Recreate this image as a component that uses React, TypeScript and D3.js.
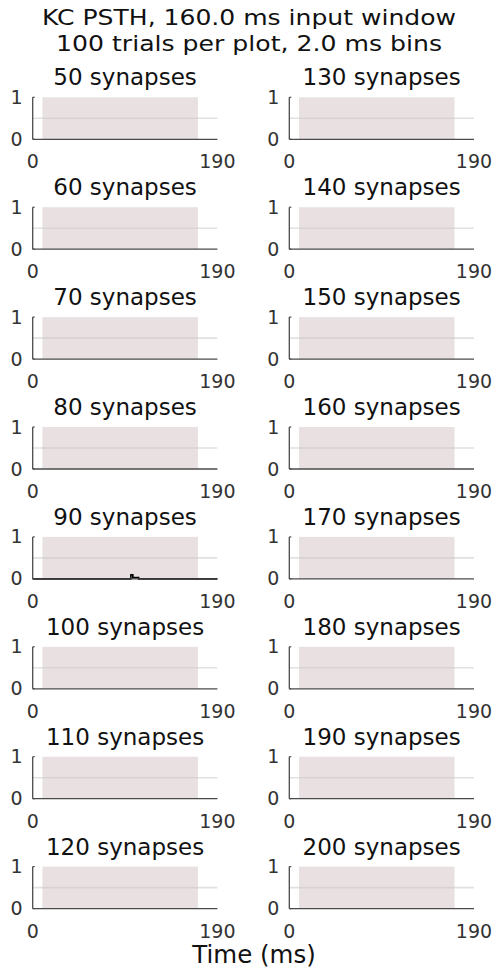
import React from "react";
import * as d3 from "d3";

const synapsesLeft = [50, 60, 70, 80, 90, 100, 110, 120];
const synapsesRight = [130, 140, 150, 160, 170, 180, 190, 200];
const xTicks = [0, 190];
const yTicks = [0, 1];
const windowStart = 10;
const windowEnd = 170;
const referenceLevel = 0.5;
// PSTH trace (only the 90-synapse panel shows any spikes)
const psthSynapses = 90;
const psthTimes = [0, 101, 101, 103, 103, 109, 109, 190];
const psthValues = [0, 0, 0.1, 0.1, 0.03, 0.03, 0, 0];

const titleLines = ["KC PSTH, 160.0 ms input window", "100 trials per plot, 2.0 ms bins"];
const xLabel = "Time (ms)";

const W = 496;
const H = 970;
const FONT = "DejaVu Sans, sans-serif";
const colX = [32.7, 289.3];
const panelW = 184.7;
const rowTop0 = 97.3;
const rowStep = 109.9;
const panelH = 42;

function Panel({ n, x0, y0 }: { n: number; x0: number; y0: number }) {
  const x = d3.scaleLinear().domain([0, 190]).range([x0, x0 + panelW]);
  const y = d3.scaleLinear().domain([0, 1]).range([y0 + panelH, y0]);
  const line = d3
    .line<number>()
    .x((_, i) => x(psthTimes[i]))
    .y((v) => y(v));
  const axisColor = "#4a4a4a";
  return (
    <g>
      <text x={(x(0) + x(190)) / 2} y={y0 - 12} textAnchor="middle" fontFamily={FONT} fontSize={23} fill="#111">
        {`${n} synapses`}
      </text>
      <rect x={x(windowStart)} y={y(1)} width={x(windowEnd) - x(windowStart)} height={y(0) - y(1)} fill="#e9e1e1" />
      <line x1={x(0)} x2={x(190)} y1={y(referenceLevel)} y2={y(referenceLevel)} stroke="#c9c9c9" strokeOpacity={0.55} strokeWidth={1.6} />
      {n === psthSynapses && (
        <path d={line(psthValues) || ""} fill="none" stroke="#000" strokeWidth={1.6} />
      )}
      <line x1={x(0)} x2={x(0)} y1={y(1)} y2={y(0)} stroke={axisColor} strokeWidth={1.3} />
      <line x1={x(0)} x2={x(190)} y1={y(0)} y2={y(0)} stroke={axisColor} strokeWidth={1.3} />
      {yTicks.map((t) => (
        <g key={"y" + t}>
          <line x1={x(0)} x2={x(0) + 2} y1={y(t)} y2={y(t)} stroke={axisColor} strokeWidth={1.2} />
          <text x={x(0) - 10} y={y(t) + 1} textAnchor="end" dominantBaseline="middle" fontFamily={FONT} fontSize={19} fill="#333">
            {t}
          </text>
        </g>
      ))}
      {xTicks.map((t) => (
        <text key={"x" + t} x={x(t)} y={y(0) + 29} textAnchor="middle" fontFamily={FONT} fontSize={19} fill="#333">
          {t}
        </text>
      ))}
    </g>
  );
}

const titleWidths = [414, 386];

export default function App() {
  return (
    <svg width={W} height={H} style={{ display: "block", position: "absolute", left: 0, top: 0, background: "#fff" }}>
      <rect width={W} height={H} fill="#fff" />
      {titleLines.map((t, i) => (
        <text
          key={i}
          x={249}
          y={24.5 + i * 26}
          textAnchor="middle"
          fontFamily={FONT}
          fontSize={22}
          fill="#111"
          textLength={titleWidths[i]}
          lengthAdjust="spacingAndGlyphs"
        >
          {t}
        </text>
      ))}
      {synapsesLeft.map((n, i) => (
        <Panel key={n} n={n} x0={colX[0]} y0={rowTop0 + i * rowStep} />
      ))}
      {synapsesRight.map((n, i) => (
        <Panel key={n} n={n} x0={colX[1]} y0={rowTop0 + i * rowStep} />
      ))}
      <text x={254} y={963} textAnchor="middle" fontFamily={FONT} fontSize={24.5} fill="#111">
        {xLabel}
      </text>
    </svg>
  );
}
